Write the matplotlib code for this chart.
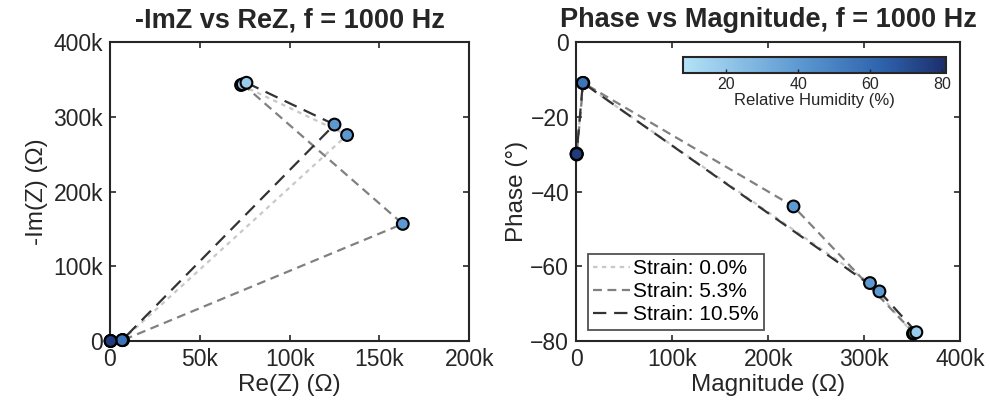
import numpy as np
import matplotlib
matplotlib.use("Agg")
import matplotlib.pyplot as plt
from matplotlib.colors import LinearSegmentedColormap, Normalize
from matplotlib.ticker import FuncFormatter, MultipleLocator

plt.rcParams["font.family"] = ["Liberation Sans", "DejaVu Sans"]

# data (ohms), humidity steps per point
STRAIN_LABELS = ["Strain: 0.0%", "Strain: 5.3%", "Strain: 10.5%"]
HUMIDITY = [18, 40, 56, 76]
RE_Z = [
    [73e3, 132e3, 7.0e3, 0.42e3],
    [74e3, 163e3, 7.3e3, 0.45e3],
    [76e3, 125e3, 6.8e3, 0.40e3],
]
NEG_IM_Z = [
    [343e3, 276e3, 1.35e3, 0.24e3],
    [344e3, 157e3, 1.40e3, 0.26e3],
    [346e3, 290e3, 1.30e3, 0.23e3],
]
RH_LIMITS = (8, 81)

LINE_COLORS = ["#c8c8c8", "#808080", "#333333"]
DASHES = [(2.0, 2.0), (4.0, 2.5), (6.0, 3.5)]
INK = "#262626"

cmap = LinearSegmentedColormap.from_list(
    "rh", [(0.0, "#b4e3f8"), (0.45, "#5b97d0"), (0.75, "#2f64ae"),
           (1.0, "#1c2e6c")], N=256)
norm = Normalize(*RH_LIMITS)


def kfmt(v, _):
    return "0" if v == 0 else f"{v / 1e3:.0f}k"


def style(ax):
    for s in ax.spines.values():
        s.set_linewidth(1.5)
        s.set_color(INK)
    ax.tick_params(direction="in", top=True, right=True, labelsize=16.5,
                   length=4, width=1.2, colors=INK, pad=5)


fig = plt.figure(figsize=(9.9, 4.12), dpi=100)
ax1 = fig.add_axes([0.111, 0.172, 0.363, 0.725])
ax2 = fig.add_axes([0.582, 0.172, 0.388, 0.725])

for i, lab in enumerate(STRAIN_LABELS):
    re = np.array(RE_Z[i])
    im = np.array(NEG_IM_Z[i])
    mag = np.hypot(re, im)
    ph = -np.degrees(np.arctan2(im, re))
    ax1.plot(re, im, color=LINE_COLORS[i], lw=1.6, dashes=DASHES[i], zorder=2)
    ax2.plot(mag, ph, color=LINE_COLORS[i], lw=1.6, dashes=DASHES[i],
             label=lab, zorder=2)

for i in range(len(STRAIN_LABELS)):
    re = np.array(RE_Z[i])
    im = np.array(NEG_IM_Z[i])
    mag = np.hypot(re, im)
    ph = -np.degrees(np.arctan2(im, re))
    ax1.scatter(re, im, c=HUMIDITY, cmap=cmap, norm=norm, s=72,
                edgecolors="black", linewidths=1.5, zorder=3, clip_on=False)
    sc = ax2.scatter(mag, ph, c=HUMIDITY, cmap=cmap, norm=norm, s=72,
                     edgecolors="black", linewidths=1.5, zorder=3, clip_on=False)

ax1.set_xlim(0, 200e3)
ax1.set_ylim(0, 400e3)
ax1.xaxis.set_major_locator(MultipleLocator(50e3))
ax1.yaxis.set_major_locator(MultipleLocator(100e3))
ax1.xaxis.set_major_formatter(FuncFormatter(kfmt))
ax1.yaxis.set_major_formatter(FuncFormatter(kfmt))
ax1.set_xlabel("Re(Z) (Ω)", fontsize=17.5, color=INK, labelpad=2)
ax1.set_ylabel("-Im(Z) (Ω)", fontsize=17.5, color=INK, labelpad=4)
ax1.set_title("-ImZ vs ReZ, f = 1000 Hz", fontsize=19.5, fontweight="bold",
              color=INK, pad=11)
style(ax1)

ax2.set_xlim(0, 400e3)
ax2.set_ylim(-80, 0)
ax2.xaxis.set_major_locator(MultipleLocator(100e3))
ax2.yaxis.set_major_locator(MultipleLocator(20))
ax2.xaxis.set_major_formatter(FuncFormatter(kfmt))
ax2.set_xlabel("Magnitude (Ω)", fontsize=17.5, color=INK, labelpad=2)
ax2.set_ylabel("Phase (°)", fontsize=17.5, color=INK, labelpad=2)
ax2.set_title("Phase vs Magnitude, f = 1000 Hz", fontsize=19.5,
              fontweight="bold", color=INK, pad=11)
style(ax2)

leg = ax2.legend(loc="lower left", fontsize=15, handlelength=1.8,
                 handletextpad=0.15, borderpad=0.25, labelspacing=0.2,
                 fancybox=False, borderaxespad=0.55)
leg.get_frame().set_edgecolor(INK)
leg.get_frame().set_linewidth(1.3)

cax = fig.add_axes([0.6896, 0.8235, 0.266, 0.0374])
cb = fig.colorbar(sc, cax=cax, orientation="horizontal", ticks=[20, 40, 60, 80])
cb.outline.set_linewidth(1.5)
cb.outline.set_edgecolor(INK)
cax.tick_params(direction="in", labelsize=11.5, length=3, width=1, colors=INK, pad=3)
cb.set_label("Relative Humidity (%)", fontsize=12, color=INK, labelpad=1)

fig.savefig("out.png", dpi=100)
